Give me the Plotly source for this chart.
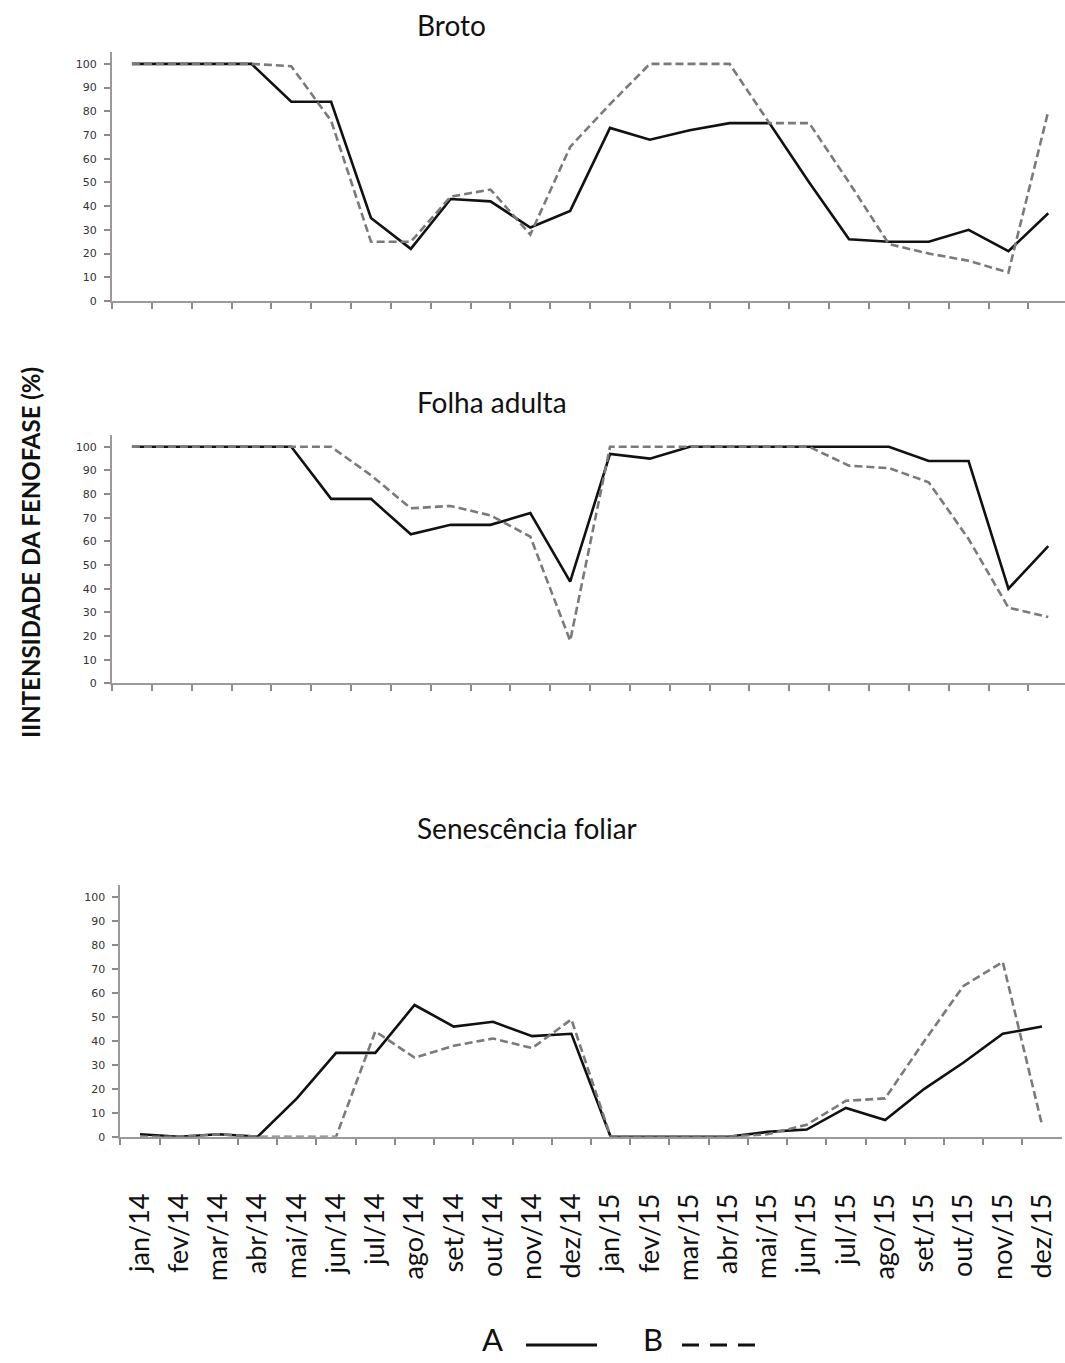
import plotly.graph_objects as go

months = ["jan/14", "fev/14", "mar/14", "abr/14", "mai/14", "jun/14", "jul/14", "ago/14",
          "set/14", "out/14", "nov/14", "dez/14", "jan/15", "fev/15", "mar/15", "abr/15",
          "mai/15", "jun/15", "jul/15", "ago/15", "set/15", "out/15", "nov/15", "dez/15"]

broto_A = [100, 100, 100, 100, 84, 84, 35, 22, 43, 42, 31, 38,
           73, 68, 72, 75, 75, 50, 26, 25, 25, 30, 21, 37]
broto_B = [100, 100, 100, 100, 99, 76, 25, 25, 44, 47, 28, 65,
           83, 100, 100, 100, 75, 75, 50, 24, 20, 17, 12, 80]

folha_A = [100, 100, 100, 100, 100, 78, 78, 63, 67, 67, 72, 43,
           97, 95, 100, 100, 100, 100, 100, 100, 94, 94, 40, 58]
folha_B = [100, 100, 100, 100, 100, 100, 88, 74, 75, 71, 62, 18,
           100, 100, 100, 100, 100, 100, 92, 91, 85, 61, 32, 28]

sen_A = [1, 0, 1, 0, 16, 35, 35, 55, 46, 48, 42, 43,
         0, 0, 0, 0, 2, 3, 12, 7, 20, 31, 43, 46]
sen_B = [0, 0, 1, 0, 0, 0, 44, 33, 38, 41, 37, 49,
         0, 0, 0, 0, 1, 5, 15, 16, 40, 63, 73, 5]

panel_titles = ["Broto", "Folha adulta", "Senescência foliar"]
y_ticks = [0, 10, 20, 30, 40, 50, 60, 70, 80, 90, 100]
y_title = "IINTENSIDADE DA FENOFASE (%)"
legend_names = ["A", "B"]

W, H = 1065, 1363
FONT = "Lato"

def px_y(p):
    return 1 - p / H

def px_x(p):
    return p / W

fig = go.Figure()

panels = [(broto_A, broto_B), (folha_A, folha_B), (sen_A, sen_B)]
axis_ids = ["", "2", "3"]
for (a, b), aid in zip(panels, axis_ids):
    fig.add_trace(go.Scatter(x=months, y=a, mode="lines", name=legend_names[0],
                             xaxis="x" + aid, yaxis="y" + aid, showlegend=False,
                             line=dict(color="#111111", width=2.6)))
    fig.add_trace(go.Scatter(x=months, y=b, mode="lines", name=legend_names[1],
                             xaxis="x" + aid, yaxis="y" + aid, showlegend=False,
                             line=dict(color="#7a7a7a", width=2.6, dash="8px,4px")))

ydoms = [(52, 301), (435, 683.3), (885.3, 1136.7)]
xdoms = [(112, W), (112, W), (120.4, 1061.6)]
xranges = [[-0.5, 23.42], [-0.5, 23.42], [-0.5, 23.5]]

for i, aid in enumerate(axis_ids):
    xa = dict(domain=[px_x(xdoms[i][0]), px_x(xdoms[i][1])], range=xranges[i],
              type="category", categoryorder="array", categoryarray=months,
              anchor="y" + aid, showline=True, linecolor="#9a9a9a", linewidth=2,
              ticks="outside", ticklen=6, tickwidth=1.5, tickcolor="#8a8a8a",
              tickson="boundaries", showgrid=False, zeroline=False, automargin=False,
              showticklabels=(i == 2), tickangle=-90,
              tickfont=dict(family=FONT, size=27, color="#111111"),
              ticklabelstandoff=44)
    ya = dict(domain=[px_y(ydoms[i][1]), px_y(ydoms[i][0])], range=[0, 105],
              anchor="x" + aid, showline=True, linecolor="#9a9a9a", linewidth=2,
              ticks="outside", ticklen=6, tickwidth=1.5, tickcolor="#8a8a8a",
              tickvals=y_ticks, showgrid=False, zeroline=False, automargin=False,
              ticklabelstandoff=5,
              tickfont=dict(family="DejaVu Sans", size=11, color="#333333"))
    fig.layout["xaxis" + aid] = xa
    fig.layout["yaxis" + aid] = ya

annotations = []
for t, yc in zip(panel_titles, [25, 402, 828]):
    annotations.append(dict(text=t, x=px_x(415), y=px_y(yc), xref="paper", yref="paper",
                            xanchor="left", yanchor="middle", showarrow=False,
                            font=dict(family=FONT, size=28, color="#111111")))
annotations.append(dict(text=y_title, x=px_x(31), y=px_y(553), xref="paper", yref="paper",
                        xanchor="center", yanchor="middle", showarrow=False, textangle=-90,
                        font=dict(family=FONT, size=24, color="#111111", weight=700)))
for name, xc in zip(legend_names, [492, 653]):
    annotations.append(dict(text=name, x=px_x(xc), y=px_y(1339), xref="paper", yref="paper",
                            xanchor="center", yanchor="middle", showarrow=False, borderpad=0,
                            font=dict(family=FONT, size=31, color="#111111")))

shapes = [
    dict(type="line", xref="paper", yref="paper", x0=px_x(526), x1=px_x(597),
         y0=px_y(1345), y1=px_y(1345), line=dict(color="#111111", width=3)),
    dict(type="line", xref="paper", yref="paper", x0=px_x(682), x1=px_x(766),
         y0=px_y(1345), y1=px_y(1345), line=dict(color="#111111", width=3, dash="17px,11px")),
]

fig.update_layout(width=W, height=H, margin=dict(l=0, r=0, t=0, b=0),
                  template="none", paper_bgcolor="white", plot_bgcolor="white",
                  showlegend=False, annotations=annotations, shapes=shapes)

fig.write_html("out.html", config={"displayModeBar": False},
               post_script="document.body.style.margin='0';document.body.style.overflow='hidden';")
